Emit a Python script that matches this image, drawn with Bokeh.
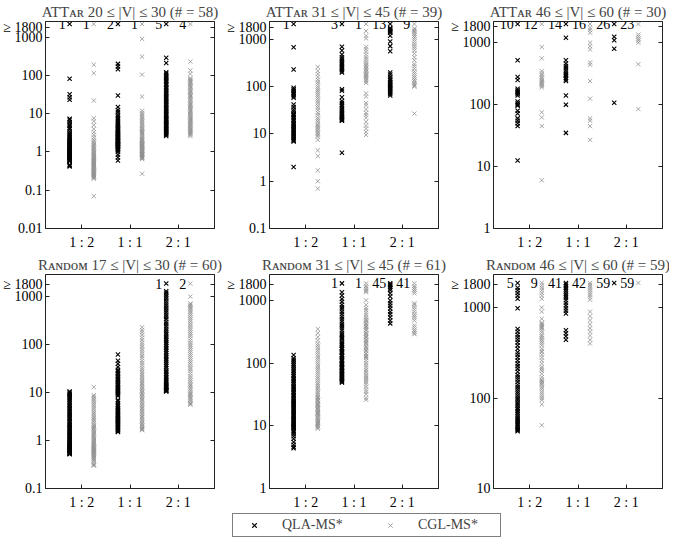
from bokeh.plotting import figure
from bokeh.layouts import column, row
from bokeh.models import (Range1d, FixedTicker, CustomJSTickFormatter, LogAxis,
                          Legend, LegendItem, ColumnDataSource)
from bokeh.core.properties import value
from bokeh.embed import file_html
from bokeh.resources import INLINE

RATIOS = ["1 : 2", "1 : 1", "2 : 1"]

TITLES = [
    "ATT\u1d00\u0280 20 \u2264 |V| \u2264 30 (# = 58)",
    "ATT\u1d00\u0280 31 \u2264 |V| \u2264 45 (# = 39)",
    "ATT\u1d00\u0280 46 \u2264 |V| \u2264 60 (# = 30)",
    "R\u1d00\u0274\u1d05\u1d0f\u1d0d 17 \u2264 |V| \u2264 30 (# = 60)",
    "R\u1d00\u0274\u1d05\u1d0f\u1d0d 31 \u2264 |V| \u2264 45 (# = 61)",
    "R\u1d00\u0274\u1d05\u1d0f\u1d0d 46 \u2264 |V| \u2264 60 (# = 59)",
]

# ---------------- running times (s), per ratio 1:2, 1:1, 2:1 ----------------
# ATTar 20-30
A20_QLA_12 = [82, 32, 27, 23, 7.4, 6.9, 6.1, 5.3, 4.8, 4.2, 3.9, 3.4, 3.1, 2.9, 2.7, 2.5, 2.35, 2.2, 2.05,
              1.95, 1.85, 1.78, 1.7, 1.6, 1.52, 1.47, 1.4, 1.33, 1.3, 1.24, 1.2, 1.15, 1.1, 1.07, 1.02, 0.98,
              0.95, 0.92, 0.9, 0.87, 0.84, 0.8, 0.78, 0.76, 0.74, 0.71, 0.7, 0.68, 0.66, 0.64, 0.62, 0.6,
              0.58, 0.57, 0.46, 0.44, 0.42]
A20_CGL_12 = [190, 115, 22, 7.6, 6.3, 5.0, 4.0, 3.3, 2.8, 2.4, 2.1, 1.9, 1.75, 1.6, 1.5, 1.4, 1.3, 1.22,
              1.15, 1.08, 1.0, 0.95, 0.9, 0.85, 0.8, 0.76, 0.72, 0.68, 0.65, 0.62, 0.6, 0.57, 0.55, 0.52,
              0.5, 0.48, 0.46, 0.44, 0.42, 0.4, 0.38, 0.36, 0.35, 0.33, 0.32, 0.3, 0.29, 0.28, 0.27, 0.26,
              0.25, 0.24, 0.23, 0.22, 0.21, 0.2, 0.07]
A20_QLA_11 = [200, 170, 145, 30, 15, 12.5, 11, 9.5, 8.5, 7.6, 7, 6.4, 5.9, 5.5, 5.1, 4.8, 4.5, 4.2, 4.0,
              3.8, 3.6, 3.4, 3.25, 3.1, 3.0, 2.9, 2.8, 2.7, 2.6, 2.5, 2.4, 2.3, 2.2, 2.1, 2.0, 1.95, 1.9,
              1.85, 1.8, 1.7, 1.65, 1.6, 1.55, 1.5, 1.45, 1.4, 1.35, 1.3, 1.25, 1.2, 1.15, 1.1, 1.0, 0.85,
              0.72, 0.6]
A20_CGL_11 = [900, 310, 105, 28, 12, 10.5, 9.5, 8.8, 8, 7.3, 6.7, 6.2, 5.7, 5.2, 4.8, 4.4, 4.1, 3.8, 3.5,
              3.3, 3.1, 2.9, 2.7, 2.5, 2.35, 2.2, 2.1, 2.0, 1.9, 1.8, 1.7, 1.6, 1.55, 1.5, 1.45, 1.4, 1.35,
              1.3, 1.25, 1.2, 1.15, 1.1, 1.05, 1.0, 0.97, 0.94, 0.91, 0.88, 0.85, 0.82, 0.79, 0.76, 0.73,
              0.7, 0.68, 0.65, 0.27]
A20_QLA_21 = [290, 210, 120, 110, 100, 92, 85, 78, 72, 66, 60, 55, 50, 46, 42, 38, 35, 32, 29, 27, 25, 23,
              21, 19.5, 18, 16.5, 15, 14, 13, 12, 11, 10.2, 9.5, 8.8, 8.2, 7.6, 7.1, 6.6, 6.2, 5.8, 5.5,
              5.2, 4.9, 4.6, 4.3, 4.0, 3.8, 3.6, 3.4, 3.2, 3.0, 2.8, 2.6]
A20_CGL_21 = [230, 135, 110, 85, 80, 75, 70, 65, 60, 56, 52, 48, 44, 41, 38, 35, 32, 30, 28, 26, 24, 22,
              20, 18.5, 17, 16, 15, 14, 13, 12, 11.2, 10.5, 9.8, 9.2, 8.6, 8, 7.5, 7, 6.6, 6.2, 5.8, 5.4,
              5.1, 4.8, 4.5, 4.2, 4.0, 3.8, 3.6, 3.4, 3.2, 3.0, 2.8, 2.6]
A20_QLA_TO = [1, 2, 5]
A20_CGL_TO = [1, 1, 4]

# ATTar 31-45
A31_QLA_12 = [680, 230, 95, 88, 82, 76, 72, 68, 63, 58, 42, 37, 33, 30, 27, 26, 25, 23, 21.5, 20, 18.5, 17,
              16, 15, 14, 13.2, 12.5, 11.8, 11, 10.4, 9.8, 9.2, 8.6, 8.1, 7.6, 7.2, 6.9, 2.0]
A31_CGL_12 = [260, 215, 185, 160, 140, 125, 112, 100, 90, 82, 75, 68, 62, 56, 50, 45, 40, 36, 32, 28, 25,
              22, 20, 18, 16, 15, 14, 13, 12, 11, 10.2, 9.5, 8.8, 7.5, 4.5, 3.4, 1.7, 1.0, 0.7]
A31_QLA_11 = [700, 580, 480, 420, 380, 350, 330, 310, 290, 270, 255, 240, 225, 210, 200, 88, 82, 60, 50,
              45, 41, 38, 35, 33, 31, 29, 27, 25.5, 24, 23, 22, 21, 20, 19.5, 19, 4.0]
A31_CGL_11 = [1500, 1200, 1050, 700, 620, 550, 480, 420, 380, 340, 310, 290, 270, 250, 235, 220, 205, 190,
              180, 170, 160, 150, 140, 130, 120, 72, 62, 45, 40, 33, 28, 25, 22, 18, 15, 13, 11, 9.5]
A31_QLA_21 = [1750, 1650, 1580, 1500, 1450, 1380, 1200, 900, 720, 560, 200, 180, 160, 145, 135, 125, 118,
              110, 104, 98, 92, 86, 80, 75, 70, 65]
A31_CGL_21 = [1700, 1600, 1500, 1420, 1300, 1200, 1100, 1000, 900, 800, 720, 650, 580, 500, 420, 360, 300,
              270, 240, 210, 190, 170, 155, 140, 130, 120, 112, 105, 100, 27]
A31_QLA_TO = [1, 3, 13]
A31_CGL_TO = [0, 1, 9]

# ATTar 46-60
A46_QLA_12 = [520, 280, 250, 180, 170, 162, 155, 148, 140, 112, 105, 100, 96, 80, 72, 60, 55, 50, 45, 12.5]
A46_CGL_12 = [850, 560, 350, 320, 300, 280, 265, 250, 240, 230, 220, 210, 200, 190, 75, 62, 45, 6]
A46_QLA_11 = [1200, 520, 460, 420, 390, 360, 330, 310, 300, 290, 270, 255, 240, 140, 100, 35]
A46_CGL_11 = [1750, 1600, 1450, 1000, 880, 780, 480, 440, 240, 125, 60, 55, 45, 27]
A46_QLA_21 = [1250, 1100, 800, 107]
A46_CGL_21 = [1350, 1250, 1150, 1080, 1000, 450, 85]
A46_QLA_TO = [10, 14, 26]
A46_CGL_TO = [12, 16, 23]

# Random 17-30
R17_QLA_12 = [10.5, 10, 9.5, 9, 8.5, 8, 7.5, 7, 6.5, 6, 5.6, 5.2, 4.8, 4.5, 4.2, 3.9, 3.6, 3.4, 3.2, 3.0,
              2.8, 2.6, 2.4, 2.25, 2.1, 2.0, 1.9, 1.8, 1.7, 1.6, 1.52, 1.45, 1.38, 1.3, 1.24, 1.18, 1.12,
              1.06, 1.0, 0.96, 0.92, 0.88, 0.85, 0.82, 0.8, 0.77, 0.75, 0.72, 0.7, 0.68, 0.66, 0.64, 0.62,
              0.6, 0.58, 0.56, 0.55, 0.54, 0.53, 0.52]
R17_CGL_12 = [13, 8.8, 8.2, 7.6, 7, 6.4, 5.8, 5.3, 4.8, 4.4, 4, 3.7, 3.4, 3.1, 2.9, 2.7, 2.5, 2.3, 2.1, 2.0,
              1.9, 1.8, 1.7, 1.6, 1.5, 1.42, 1.35, 1.28, 1.2, 1.14, 1.08, 1.02, 0.97, 0.92, 0.88, 0.84, 0.8,
              0.77, 0.74, 0.71, 0.68, 0.66, 0.64, 0.62, 0.6, 0.58, 0.56, 0.54, 0.52, 0.5, 0.48, 0.46, 0.44,
              0.42, 0.4, 0.38, 0.35, 0.32, 0.31, 0.3]
R17_QLA_11 = [62, 46, 40, 34, 30, 28, 26, 24, 22.5, 21, 19.5, 18.5, 17.5, 16.5, 15.5, 14.8, 14, 13.3, 12.7,
              12.1, 11.6, 11.1, 10.6, 10.2, 9.8, 9.4, 9, 8.5, 7, 6.6, 6.0, 5.5, 5.1, 4.8, 4.5, 4.3, 4.1, 3.9,
              3.7, 3.5, 3.35, 3.2, 3.05, 2.9, 2.8, 2.7, 2.6, 2.5, 2.4, 2.3, 2.2, 2.1, 2.0, 1.9, 1.8, 1.7,
              1.65, 1.6, 1.55, 1.5]
R17_CGL_11 = [230, 200, 180, 160, 140, 125, 110, 100, 90, 80, 72, 65, 58, 52, 46, 41, 37, 33, 30, 27, 25,
              23, 21, 19, 17.5, 16, 15, 14, 13, 12, 11.2, 10.5, 9.8, 9.2, 8.6, 8, 7.5, 7, 6.5, 6, 5.6, 5.2,
              4.8, 4.5, 4.2, 3.9, 3.6, 3.3, 3.1, 2.9, 2.7, 2.5, 2.35, 2.2, 2.05, 1.95, 1.85, 1.75, 1.7, 1.65]
R17_QLA_21 = [1300, 1200, 1100, 1000, 900, 800, 720, 650, 580, 520, 470, 420, 380, 340, 300, 270, 240, 215,
              195, 175, 160, 145, 130, 120, 110, 100, 92, 85, 78, 72, 66, 60, 55, 50, 46, 42, 38, 35, 32,
              29, 27, 25, 23, 21, 19.5, 18, 17, 16, 15, 14.2, 13.5, 13, 12.5, 12, 11.5, 11.2, 11, 10.8, 10.5]
R17_CGL_21 = [1000, 720, 680, 640, 600, 560, 520, 480, 440, 400, 360, 330, 300, 270, 245, 220, 200, 180,
              165, 150, 135, 120, 108, 98, 90, 82, 75, 68, 62, 56, 51, 46, 42, 38, 34, 31, 28, 25, 22, 20,
              18, 16.5, 15, 14, 13, 12, 11, 10.2, 9.5, 9, 8.5, 8, 7.5, 7, 6.5, 6, 5.8, 5.6]
R17_QLA_TO = [0, 0, 1]
R17_CGL_TO = [0, 0, 2]

# Random 31-45
R31_QLA_12 = [135, 120, 112, 105, 98, 92, 86, 80, 75, 70, 66, 62, 58, 55, 52, 49, 46, 43, 41, 39, 37, 35,
              33, 31, 29.5, 28, 26.5, 25, 24, 23, 22, 21, 20, 19, 18.2, 17.4, 16.6, 15.9, 15.2, 14.5, 13.9,
              13.3, 12.7, 12.2, 11.7, 11.2, 10.8, 10.4, 10, 9.7, 9.4, 9.1, 8.5, 8, 7.4, 6.8, 6.2, 5.5, 5.0,
              4.6, 4.4]
R31_CGL_12 = [350, 300, 260, 230, 205, 190, 175, 160, 148, 136, 125, 115, 106, 98, 90, 83, 77, 71, 66, 61,
              57, 53, 49, 46, 43, 40, 37.5, 35, 33, 31, 29, 27.5, 26, 24.5, 23, 22, 21, 20, 19, 18, 17.2,
              16.4, 15.6, 14.9, 14.2, 13.6, 13, 12.4, 11.9, 11.4, 11, 10.6, 10.2, 9.8, 9.4, 9.0, 28, 25, 22,
              19, 16]
R31_QLA_11 = [1350, 1200, 1050, 950, 850, 780, 720, 660, 600, 550, 500, 460, 420, 390, 360, 330, 300, 280,
              260, 240, 220, 205, 190, 178, 166, 155, 145, 136, 128, 120, 113, 106, 100, 95, 90, 86, 82, 78,
              74, 70, 67, 64, 61, 58, 56, 54, 52, 50, 49, 60, 65, 75, 85, 95, 110, 130, 150, 170, 200, 250]
R31_CGL_11 = [1700, 1600, 1500, 1420, 1350, 1000, 850, 760, 700, 640, 590, 540, 500, 460, 420, 390, 360,
              330, 300, 280, 260, 240, 220, 200, 185, 170, 155, 142, 130, 120, 110, 100, 92, 85, 78, 72, 66,
              62, 58, 54, 50, 46, 42, 38, 35, 32, 28, 26, 125, 140, 160, 180, 210, 230, 260, 300, 340, 380,
              430, 480]
R31_QLA_21 = [1800, 1750, 1650, 1550, 1450, 1300, 1150, 1000, 900, 820, 740, 660, 600, 540, 480, 430]
R31_CGL_21 = [1700, 1600, 1500, 1400, 1300, 900, 850, 780, 720, 660, 600, 560, 520, 480, 400, 370, 340, 320,
              300, 290]
R31_QLA_TO = [0, 1, 45]
R31_CGL_TO = [0, 1, 41]

# Random 46-60
R46_QLA_12 = [1650, 1550, 1450, 1350, 1250, 980, 580, 540, 500, 470, 440, 410, 380, 350, 320, 300, 280, 260,
              240, 225, 210, 195, 180, 170, 160, 150, 140, 132, 125, 118, 112, 106, 100, 95, 90, 86, 82, 78,
              75, 72, 69, 66, 63, 60, 58, 56, 54, 52, 50, 48, 46, 45, 44, 43]
R46_CGL_12 = [1750, 1650, 1550, 1450, 1350, 1250, 1000, 900, 750, 680, 660, 640, 620, 600, 590, 560, 530,
              500, 480, 460, 440, 420, 400, 380, 350, 330, 320, 300, 280, 260, 240, 220, 210, 200, 185, 170,
              160, 155, 150, 145, 140, 132, 125, 118, 112, 106, 100, 95, 85, 50]
R46_QLA_11 = [1800, 1720, 1650, 1580, 1500, 1420, 1350, 1280, 1200, 1120, 1050, 980, 920, 860, 560, 520,
              480, 440]
R46_CGL_11 = [1780, 1700, 1620, 1540, 1460, 1380, 1300, 1220, 900, 800, 720, 650, 590, 540, 490, 440, 400]
R46_QLA_21 = []
R46_CGL_21 = []
R46_QLA_TO = [5, 41, 59]
R46_CGL_TO = [9, 42, 59]

# y-axis ticks per panel
A20_YTICKS = [0.01, 0.1, 1, 10, 100, 1000, 1800]
A31_YTICKS = [0.1, 1, 10, 100, 1000, 1800]
A46_YTICKS = [1, 10, 100, 1000, 1800]
R17_YTICKS = [0.1, 1, 10, 100, 1000, 1800]
R31_YTICKS = [1, 10, 100, 1000, 1800]
R46_YTICKS = [10, 100, 1000, 1800]

# ---------------- styling ----------------
FONT = "Liberation Serif"
QLA_COLOR = "#000000"
CGL_COLOR = "#8f8f8f"
AX_COLOR = "#222222"
OFF = 0.25
MS = 6
QLA_LW = 1.1
CGL_LW = 0.8


def make_panel(title, qla, cgl, qla_to, cgl_to, yticks, yhi, t_y, width, height, left, right, top, bottom):
    p = figure(width=width, height=height, x_range=Range1d(0.25, 3.75),
               y_range=Range1d(yticks[0], yhi), y_axis_type="log",
               output_backend="svg", toolbar_location=None,
               min_border_left=left, min_border_right=right,
               min_border_top=top, min_border_bottom=bottom)
    p.title.text = title
    p.title.align = "center"
    p.title.text_font = FONT
    p.title.text_font_size = "15px"
    p.title.text_font_style = "normal"
    p.title.standoff = 3
    p.grid.visible = False
    p.outline_line_color = AX_COLOR
    p.outline_line_width = 1
    p.background_fill_color = "white"

    p.xaxis.ticker = FixedTicker(ticks=[1, 2, 3])
    p.xaxis.major_label_overrides = {1: RATIOS[0], 2: RATIOS[1], 3: RATIOS[2]}
    p.xaxis.major_label_standoff = 6
    p.yaxis.ticker = FixedTicker(ticks=yticks)
    p.yaxis.formatter = CustomJSTickFormatter(
        code="return tick >= 1800 ? '\u2265 1800' : tick.toString();")
    p.yaxis.major_label_standoff = 3
    for ax in p.xaxis + p.yaxis:
        ax.major_tick_in = 4
        ax.major_tick_out = 0
        ax.minor_tick_line_color = None
        ax.axis_line_color = AX_COLOR
        ax.major_tick_line_color = AX_COLOR
        ax.major_label_text_font = FONT
        ax.major_label_text_font_size = "14px"
        ax.major_label_text_color = "black"

    right_ax = LogAxis(ticker=FixedTicker(ticks=yticks),
                       formatter=CustomJSTickFormatter(code="return '';"),
                       major_tick_in=4, major_tick_out=0, major_label_standoff=0,
                       minor_tick_line_color=None, axis_line_color=AX_COLOR,
                       major_tick_line_color=AX_COLOR, major_label_text_font_size="0px")
    p.add_layout(right_ax, "right")

    for series, tos, off, color, lw in ((qla, qla_to, -OFF, QLA_COLOR, QLA_LW),
                                        (cgl, cgl_to, OFF, CGL_COLOR, CGL_LW)):
        for i, vals in enumerate(series):
            if vals:
                p.scatter([i + 1 + off] * len(vals), vals, marker="x", size=MS,
                          line_color=color, line_width=lw)
        tx = [i + 1 + off for i, c in enumerate(tos) if c > 0]
        tc = [str(c) for c in tos if c > 0]
        if tx:
            src = ColumnDataSource(dict(x=tx, y=[t_y] * len(tx), t=tc))
            p.scatter("x", "y", source=src, marker="x", size=MS, line_color=color, line_width=lw)
            p.text("x", "y", text="t", source=src, text_align="right", text_baseline="middle",
                   x_offset=-4, text_font=value(FONT), text_font_size="14px", text_color="black")
    return p


TOP_H, BOT_H = 252, 260
W = [224, 224, 221]
R = [10, 10, 7]

f1 = make_panel(TITLES[0], [A20_QLA_12, A20_QLA_11, A20_QLA_21], [A20_CGL_12, A20_CGL_11, A20_CGL_21],
                A20_QLA_TO, A20_CGL_TO, A20_YTICKS, 2560, 2200, W[0], TOP_H, 42, R[0], 19, 22)
f2 = make_panel(TITLES[1], [A31_QLA_12, A31_QLA_11, A31_QLA_21], [A31_CGL_12, A31_CGL_11, A31_CGL_21],
                A31_QLA_TO, A31_CGL_TO, A31_YTICKS, 2390, 2120, W[1], TOP_H, 42, R[1], 19, 22)
f3 = make_panel(TITLES[2], [A46_QLA_12, A46_QLA_11, A46_QLA_21], [A46_CGL_12, A46_CGL_11, A46_CGL_21],
                A46_QLA_TO, A46_CGL_TO, A46_YTICKS, 2200, 2000, W[2], TOP_H, 42, R[2], 19, 22)
f4 = make_panel(TITLES[3], [R17_QLA_12, R17_QLA_11, R17_QLA_21], [R17_CGL_12, R17_CGL_11, R17_CGL_21],
                R17_QLA_TO, R17_CGL_TO, R17_YTICKS, 2895, 1870, W[0], BOT_H, 42, R[0], 22, 22)
f5 = make_panel(TITLES[4], [R31_QLA_12, R31_QLA_11, R31_QLA_21], [R31_CGL_12, R31_CGL_11, R31_CGL_21],
                R31_QLA_TO, R31_CGL_TO, R31_YTICKS, 2590, 1870, W[1], BOT_H, 42, R[1], 22, 22)
f6 = make_panel(TITLES[5], [R46_QLA_12, R46_QLA_11, R46_QLA_21], [R46_CGL_12, R46_CGL_11, R46_CGL_21],
                R46_QLA_TO, R46_CGL_TO, R46_YTICKS, 2316, 1870, W[2], BOT_H, 42, R[2], 22, 22)

# legend strip (the sample points sit outside the visible range; only the legend shows them)
lf = figure(width=sum(W), height=28, x_range=Range1d(0, 1), y_range=Range1d(0, 1),
            output_backend="svg", toolbar_location=None,
            x_axis_location=None, y_axis_location=None, min_border=0)
lf.outline_line_color = None
lf.grid.visible = False
r_q = lf.scatter(x=[-5], y=[-5], marker="x", size=MS, line_color=QLA_COLOR, line_width=QLA_LW)
r_c = lf.scatter(x=[-5], y=[-5], marker="x", size=MS, line_color=CGL_COLOR, line_width=CGL_LW)
leg = Legend(items=[LegendItem(label="QLA-MS*", renderers=[r_q]),
                    LegendItem(label="CGL-MS*", renderers=[r_c])],
             orientation="horizontal", location=(232, 3), margin=0, padding=3, spacing=11,
             glyph_width=36, glyph_height=16, label_width=79, label_height=16, label_standoff=10,
             border_line_color="black", border_line_width=1,
             label_text_font=FONT, label_text_font_size="14px")
lf.add_layout(leg)

layout = column(row(f1, f2, f3), row(f4, f5, f6), lf)
open("out.html", "w").write(file_html(layout, INLINE))
